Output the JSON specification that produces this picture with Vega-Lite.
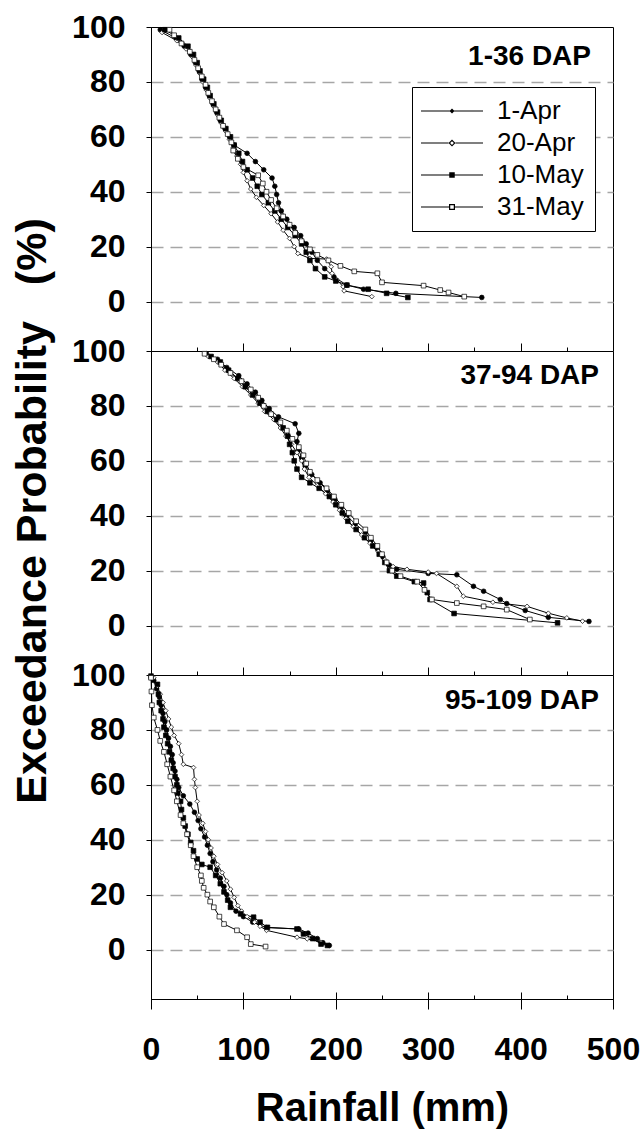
{
  "$schema": "https://vega.github.io/schema/vega-lite/v6.json",
  "background": "white",
  "padding": {"left": 11, "top": 10, "right": 5, "bottom": 5},
  "spacing": 0,
  "bounds": "flush",
  "data": {"values": [
    {"panel":"1-36","series":"1-Apr","prob":99,"rain":10},{"panel":"1-36","series":"1-Apr","prob":96,"rain":27},{"panel":"1-36","series":"1-Apr","prob":93,"rain":36},{"panel":"1-36","series":"1-Apr","prob":90,"rain":43},{"panel":"1-36","series":"1-Apr","prob":87,"rain":48},{"panel":"1-36","series":"1-Apr","prob":84,"rain":52},{"panel":"1-36","series":"1-Apr","prob":81,"rain":55},{"panel":"1-36","series":"1-Apr","prob":78,"rain":59},{"panel":"1-36","series":"1-Apr","prob":75,"rain":63},{"panel":"1-36","series":"1-Apr","prob":72,"rain":67},{"panel":"1-36","series":"1-Apr","prob":69,"rain":71},{"panel":"1-36","series":"1-Apr","prob":66,"rain":75},{"panel":"1-36","series":"1-Apr","prob":63,"rain":80},{"panel":"1-36","series":"1-Apr","prob":60,"rain":85},{"panel":"1-36","series":"1-Apr","prob":57,"rain":90},{"panel":"1-36","series":"1-Apr","prob":54,"rain":104},{"panel":"1-36","series":"1-Apr","prob":51,"rain":113},{"panel":"1-36","series":"1-Apr","prob":48,"rain":122},{"panel":"1-36","series":"1-Apr","prob":45,"rain":131},{"panel":"1-36","series":"1-Apr","prob":42,"rain":134},{"panel":"1-36","series":"1-Apr","prob":39,"rain":136},{"panel":"1-36","series":"1-Apr","prob":36,"rain":138},{"panel":"1-36","series":"1-Apr","prob":33,"rain":141},{"panel":"1-36","series":"1-Apr","prob":30,"rain":147},{"panel":"1-36","series":"1-Apr","prob":27,"rain":155},{"panel":"1-36","series":"1-Apr","prob":24,"rain":162},{"panel":"1-36","series":"1-Apr","prob":21,"rain":168},{"panel":"1-36","series":"1-Apr","prob":18,"rain":174},{"panel":"1-36","series":"1-Apr","prob":15,"rain":180},{"panel":"1-36","series":"1-Apr","prob":12,"rain":188},{"panel":"1-36","series":"1-Apr","prob":9,"rain":198},{"panel":"1-36","series":"1-Apr","prob":6,"rain":212},{"panel":"1-36","series":"1-Apr","prob":4.5,"rain":230},{"panel":"1-36","series":"1-Apr","prob":3,"rain":265},{"panel":"1-36","series":"1-Apr","prob":1.5,"rain":358},
    {"panel":"1-36","series":"20-Apr","prob":98,"rain":12},{"panel":"1-36","series":"20-Apr","prob":95,"rain":28},{"panel":"1-36","series":"20-Apr","prob":92,"rain":38},{"panel":"1-36","series":"20-Apr","prob":89,"rain":45},{"panel":"1-36","series":"20-Apr","prob":86,"rain":49},{"panel":"1-36","series":"20-Apr","prob":83,"rain":53},{"panel":"1-36","series":"20-Apr","prob":80,"rain":56},{"panel":"1-36","series":"20-Apr","prob":77,"rain":60},{"panel":"1-36","series":"20-Apr","prob":74,"rain":64},{"panel":"1-36","series":"20-Apr","prob":71,"rain":68},{"panel":"1-36","series":"20-Apr","prob":68,"rain":72},{"panel":"1-36","series":"20-Apr","prob":65,"rain":76},{"panel":"1-36","series":"20-Apr","prob":62,"rain":81},{"panel":"1-36","series":"20-Apr","prob":59,"rain":85},{"panel":"1-36","series":"20-Apr","prob":56,"rain":89},{"panel":"1-36","series":"20-Apr","prob":53,"rain":93},{"panel":"1-36","series":"20-Apr","prob":50,"rain":97},{"panel":"1-36","series":"20-Apr","prob":47,"rain":100},{"panel":"1-36","series":"20-Apr","prob":44,"rain":104},{"panel":"1-36","series":"20-Apr","prob":41,"rain":108},{"panel":"1-36","series":"20-Apr","prob":38,"rain":114},{"panel":"1-36","series":"20-Apr","prob":35,"rain":122},{"panel":"1-36","series":"20-Apr","prob":32,"rain":130},{"panel":"1-36","series":"20-Apr","prob":29,"rain":137},{"panel":"1-36","series":"20-Apr","prob":26,"rain":143},{"panel":"1-36","series":"20-Apr","prob":23,"rain":150},{"panel":"1-36","series":"20-Apr","prob":20,"rain":155},{"panel":"1-36","series":"20-Apr","prob":17.5,"rain":159},{"panel":"1-36","series":"20-Apr","prob":15.7,"rain":172},{"panel":"1-36","series":"20-Apr","prob":15.5,"rain":190},{"panel":"1-36","series":"20-Apr","prob":12.7,"rain":195},{"panel":"1-36","series":"20-Apr","prob":10.3,"rain":196},{"panel":"1-36","series":"20-Apr","prob":8,"rain":201},{"panel":"1-36","series":"20-Apr","prob":5.4,"rain":208},{"panel":"1-36","series":"20-Apr","prob":3.9,"rain":209},{"panel":"1-36","series":"20-Apr","prob":1.8,"rain":239},
    {"panel":"1-36","series":"10-May","prob":99,"rain":15},{"panel":"1-36","series":"10-May","prob":96,"rain":30},{"panel":"1-36","series":"10-May","prob":93,"rain":40},{"panel":"1-36","series":"10-May","prob":90,"rain":46},{"panel":"1-36","series":"10-May","prob":87,"rain":50},{"panel":"1-36","series":"10-May","prob":84,"rain":53},{"panel":"1-36","series":"10-May","prob":81,"rain":57},{"panel":"1-36","series":"10-May","prob":78,"rain":61},{"panel":"1-36","series":"10-May","prob":75,"rain":64},{"panel":"1-36","series":"10-May","prob":72,"rain":68},{"panel":"1-36","series":"10-May","prob":69,"rain":72},{"panel":"1-36","series":"10-May","prob":66,"rain":76},{"panel":"1-36","series":"10-May","prob":63,"rain":81},{"panel":"1-36","series":"10-May","prob":60,"rain":86},{"panel":"1-36","series":"10-May","prob":57,"rain":90},{"panel":"1-36","series":"10-May","prob":54,"rain":95},{"panel":"1-36","series":"10-May","prob":51,"rain":99},{"panel":"1-36","series":"10-May","prob":48,"rain":104},{"panel":"1-36","series":"10-May","prob":45,"rain":110},{"panel":"1-36","series":"10-May","prob":42,"rain":115},{"panel":"1-36","series":"10-May","prob":39,"rain":120},{"panel":"1-36","series":"10-May","prob":36,"rain":127},{"panel":"1-36","series":"10-May","prob":33,"rain":134},{"panel":"1-36","series":"10-May","prob":30,"rain":141},{"panel":"1-36","series":"10-May","prob":27,"rain":148},{"panel":"1-36","series":"10-May","prob":24,"rain":156},{"panel":"1-36","series":"10-May","prob":21,"rain":163},{"panel":"1-36","series":"10-May","prob":18,"rain":168},{"panel":"1-36","series":"10-May","prob":15,"rain":172},{"panel":"1-36","series":"10-May","prob":12,"rain":178},{"panel":"1-36","series":"10-May","prob":9,"rain":188},{"panel":"1-36","series":"10-May","prob":7.5,"rain":200},{"panel":"1-36","series":"10-May","prob":6,"rain":212},{"panel":"1-36","series":"10-May","prob":4.5,"rain":235},{"panel":"1-36","series":"10-May","prob":3,"rain":255},{"panel":"1-36","series":"10-May","prob":1.5,"rain":278},
    {"panel":"1-36","series":"31-May","prob":99,"rain":20},{"panel":"1-36","series":"31-May","prob":97,"rain":25},{"panel":"1-36","series":"31-May","prob":94,"rain":33},{"panel":"1-36","series":"31-May","prob":91,"rain":42},{"panel":"1-36","series":"31-May","prob":88,"rain":47},{"panel":"1-36","series":"31-May","prob":85,"rain":51},{"panel":"1-36","series":"31-May","prob":82,"rain":55},{"panel":"1-36","series":"31-May","prob":79,"rain":59},{"panel":"1-36","series":"31-May","prob":76,"rain":62},{"panel":"1-36","series":"31-May","prob":73,"rain":66},{"panel":"1-36","series":"31-May","prob":70,"rain":70},{"panel":"1-36","series":"31-May","prob":67,"rain":74},{"panel":"1-36","series":"31-May","prob":64,"rain":78},{"panel":"1-36","series":"31-May","prob":61,"rain":83},{"panel":"1-36","series":"31-May","prob":58,"rain":87},{"panel":"1-36","series":"31-May","prob":55,"rain":89},{"panel":"1-36","series":"31-May","prob":52,"rain":94},{"panel":"1-36","series":"31-May","prob":49,"rain":100},{"panel":"1-36","series":"31-May","prob":46,"rain":116},{"panel":"1-36","series":"31-May","prob":43,"rain":121},{"panel":"1-36","series":"31-May","prob":40,"rain":125},{"panel":"1-36","series":"31-May","prob":37,"rain":130},{"panel":"1-36","series":"31-May","prob":34,"rain":136},{"panel":"1-36","series":"31-May","prob":31,"rain":143},{"panel":"1-36","series":"31-May","prob":28,"rain":150},{"panel":"1-36","series":"31-May","prob":25,"rain":156},{"panel":"1-36","series":"31-May","prob":22,"rain":163},{"panel":"1-36","series":"31-May","prob":19,"rain":172},{"panel":"1-36","series":"31-May","prob":17,"rain":180},{"panel":"1-36","series":"31-May","prob":15,"rain":192},{"panel":"1-36","series":"31-May","prob":13,"rain":205},{"panel":"1-36","series":"31-May","prob":11,"rain":220},{"panel":"1-36","series":"31-May","prob":10.3,"rain":245},{"panel":"1-36","series":"31-May","prob":7,"rain":250},{"panel":"1-36","series":"31-May","prob":5.8,"rain":295},{"panel":"1-36","series":"31-May","prob":4.2,"rain":313},{"panel":"1-36","series":"31-May","prob":3.3,"rain":322},{"panel":"1-36","series":"31-May","prob":1.8,"rain":339},
    {"panel":"37-94","series":"1-Apr","prob":99,"rain":60},{"panel":"37-94","series":"1-Apr","prob":97,"rain":72},{"panel":"37-94","series":"1-Apr","prob":94,"rain":82},{"panel":"37-94","series":"1-Apr","prob":91,"rain":95},{"panel":"37-94","series":"1-Apr","prob":88,"rain":104},{"panel":"37-94","series":"1-Apr","prob":85,"rain":113},{"panel":"37-94","series":"1-Apr","prob":82,"rain":120},{"panel":"37-94","series":"1-Apr","prob":79,"rain":128},{"panel":"37-94","series":"1-Apr","prob":76,"rain":138},{"panel":"37-94","series":"1-Apr","prob":73.5,"rain":156},{"panel":"37-94","series":"1-Apr","prob":70,"rain":160},{"panel":"37-94","series":"1-Apr","prob":67,"rain":158},{"panel":"37-94","series":"1-Apr","prob":64,"rain":160},{"panel":"37-94","series":"1-Apr","prob":61,"rain":163},{"panel":"37-94","series":"1-Apr","prob":58,"rain":167},{"panel":"37-94","series":"1-Apr","prob":55,"rain":174},{"panel":"37-94","series":"1-Apr","prob":52,"rain":183},{"panel":"37-94","series":"1-Apr","prob":49,"rain":191},{"panel":"37-94","series":"1-Apr","prob":46,"rain":199},{"panel":"37-94","series":"1-Apr","prob":43,"rain":206},{"panel":"37-94","series":"1-Apr","prob":40,"rain":212},{"panel":"37-94","series":"1-Apr","prob":37,"rain":221},{"panel":"37-94","series":"1-Apr","prob":34,"rain":232},{"panel":"37-94","series":"1-Apr","prob":31,"rain":238},{"panel":"37-94","series":"1-Apr","prob":28,"rain":245},{"panel":"37-94","series":"1-Apr","prob":25,"rain":251},{"panel":"37-94","series":"1-Apr","prob":22,"rain":258},{"panel":"37-94","series":"1-Apr","prob":20.5,"rain":266},{"panel":"37-94","series":"1-Apr","prob":19,"rain":300},{"panel":"37-94","series":"1-Apr","prob":18.5,"rain":331},{"panel":"37-94","series":"1-Apr","prob":14.3,"rain":349},{"panel":"37-94","series":"1-Apr","prob":12.5,"rain":360},{"panel":"37-94","series":"1-Apr","prob":9.5,"rain":378},{"panel":"37-94","series":"1-Apr","prob":8,"rain":385},{"panel":"37-94","series":"1-Apr","prob":5.5,"rain":405},{"panel":"37-94","series":"1-Apr","prob":3,"rain":430},{"panel":"37-94","series":"1-Apr","prob":1.5,"rain":474},
    {"panel":"37-94","series":"20-Apr","prob":98,"rain":62},{"panel":"37-94","series":"20-Apr","prob":96,"rain":72},{"panel":"37-94","series":"20-Apr","prob":93,"rain":80},{"panel":"37-94","series":"20-Apr","prob":90,"rain":90},{"panel":"37-94","series":"20-Apr","prob":87,"rain":99},{"panel":"37-94","series":"20-Apr","prob":84,"rain":108},{"panel":"37-94","series":"20-Apr","prob":81,"rain":116},{"panel":"37-94","series":"20-Apr","prob":78,"rain":123},{"panel":"37-94","series":"20-Apr","prob":75,"rain":133},{"panel":"37-94","series":"20-Apr","prob":72,"rain":140},{"panel":"37-94","series":"20-Apr","prob":69,"rain":146},{"panel":"37-94","series":"20-Apr","prob":66,"rain":152},{"panel":"37-94","series":"20-Apr","prob":63,"rain":158},{"panel":"37-94","series":"20-Apr","prob":60,"rain":163},{"panel":"37-94","series":"20-Apr","prob":57,"rain":166},{"panel":"37-94","series":"20-Apr","prob":54,"rain":171},{"panel":"37-94","series":"20-Apr","prob":51,"rain":180},{"panel":"37-94","series":"20-Apr","prob":48,"rain":189},{"panel":"37-94","series":"20-Apr","prob":45,"rain":197},{"panel":"37-94","series":"20-Apr","prob":42,"rain":204},{"panel":"37-94","series":"20-Apr","prob":39,"rain":211},{"panel":"37-94","series":"20-Apr","prob":36,"rain":219},{"panel":"37-94","series":"20-Apr","prob":33,"rain":228},{"panel":"37-94","series":"20-Apr","prob":30,"rain":237},{"panel":"37-94","series":"20-Apr","prob":27,"rain":246},{"panel":"37-94","series":"20-Apr","prob":24,"rain":253},{"panel":"37-94","series":"20-Apr","prob":21.5,"rain":262},{"panel":"37-94","series":"20-Apr","prob":20.5,"rain":277},{"panel":"37-94","series":"20-Apr","prob":19.5,"rain":300},{"panel":"37-94","series":"20-Apr","prob":19,"rain":309},{"panel":"37-94","series":"20-Apr","prob":14.3,"rain":331},{"panel":"37-94","series":"20-Apr","prob":10.7,"rain":338},{"panel":"37-94","series":"20-Apr","prob":8.5,"rain":370},{"panel":"37-94","series":"20-Apr","prob":7,"rain":407},{"panel":"37-94","series":"20-Apr","prob":4.5,"rain":430},{"panel":"37-94","series":"20-Apr","prob":2.8,"rain":450},{"panel":"37-94","series":"20-Apr","prob":1.6,"rain":467},
    {"panel":"37-94","series":"10-May","prob":98,"rain":65},{"panel":"37-94","series":"10-May","prob":96,"rain":75},{"panel":"37-94","series":"10-May","prob":93,"rain":84},{"panel":"37-94","series":"10-May","prob":90,"rain":94},{"panel":"37-94","series":"10-May","prob":87,"rain":102},{"panel":"37-94","series":"10-May","prob":84,"rain":110},{"panel":"37-94","series":"10-May","prob":81,"rain":118},{"panel":"37-94","series":"10-May","prob":78,"rain":126},{"panel":"37-94","series":"10-May","prob":75,"rain":136},{"panel":"37-94","series":"10-May","prob":72,"rain":143},{"panel":"37-94","series":"10-May","prob":69,"rain":148},{"panel":"37-94","series":"10-May","prob":66,"rain":150},{"panel":"37-94","series":"10-May","prob":63,"rain":153},{"panel":"37-94","series":"10-May","prob":60,"rain":155},{"panel":"37-94","series":"10-May","prob":57,"rain":158},{"panel":"37-94","series":"10-May","prob":54,"rain":163},{"panel":"37-94","series":"10-May","prob":52,"rain":172},{"panel":"37-94","series":"10-May","prob":50,"rain":182},{"panel":"37-94","series":"10-May","prob":47,"rain":193},{"panel":"37-94","series":"10-May","prob":44,"rain":200},{"panel":"37-94","series":"10-May","prob":41,"rain":207},{"panel":"37-94","series":"10-May","prob":38,"rain":213},{"panel":"37-94","series":"10-May","prob":35,"rain":222},{"panel":"37-94","series":"10-May","prob":32,"rain":231},{"panel":"37-94","series":"10-May","prob":29,"rain":240},{"panel":"37-94","series":"10-May","prob":26,"rain":247},{"panel":"37-94","series":"10-May","prob":23,"rain":253},{"panel":"37-94","series":"10-May","prob":20,"rain":258},{"panel":"37-94","series":"10-May","prob":18,"rain":266},{"panel":"37-94","series":"10-May","prob":16,"rain":285},{"panel":"37-94","series":"10-May","prob":15.5,"rain":295},{"panel":"37-94","series":"10-May","prob":12,"rain":299},{"panel":"37-94","series":"10-May","prob":9.5,"rain":302},{"panel":"37-94","series":"10-May","prob":4.4,"rain":328},{"panel":"37-94","series":"10-May","prob":1,"rain":440},
    {"panel":"37-94","series":"31-May","prob":99,"rain":58},{"panel":"37-94","series":"31-May","prob":97,"rain":68},{"panel":"37-94","series":"31-May","prob":95,"rain":76},{"panel":"37-94","series":"31-May","prob":92,"rain":86},{"panel":"37-94","series":"31-May","prob":89,"rain":98},{"panel":"37-94","series":"31-May","prob":86,"rain":108},{"panel":"37-94","series":"31-May","prob":83,"rain":116},{"panel":"37-94","series":"31-May","prob":80,"rain":122},{"panel":"37-94","series":"31-May","prob":77,"rain":130},{"panel":"37-94","series":"31-May","prob":74,"rain":140},{"panel":"37-94","series":"31-May","prob":71,"rain":147},{"panel":"37-94","series":"31-May","prob":68,"rain":153},{"panel":"37-94","series":"31-May","prob":65,"rain":160},{"panel":"37-94","series":"31-May","prob":62,"rain":165},{"panel":"37-94","series":"31-May","prob":59,"rain":168},{"panel":"37-94","series":"31-May","prob":56,"rain":172},{"panel":"37-94","series":"31-May","prob":53,"rain":180},{"panel":"37-94","series":"31-May","prob":50,"rain":190},{"panel":"37-94","series":"31-May","prob":47,"rain":198},{"panel":"37-94","series":"31-May","prob":44,"rain":206},{"panel":"37-94","series":"31-May","prob":41,"rain":214},{"panel":"37-94","series":"31-May","prob":38,"rain":222},{"panel":"37-94","series":"31-May","prob":35,"rain":232},{"panel":"37-94","series":"31-May","prob":32,"rain":238},{"panel":"37-94","series":"31-May","prob":29,"rain":245},{"panel":"37-94","series":"31-May","prob":26,"rain":250},{"panel":"37-94","series":"31-May","prob":23,"rain":255},{"panel":"37-94","series":"31-May","prob":20,"rain":261},{"panel":"37-94","series":"31-May","prob":18,"rain":270},{"panel":"37-94","series":"31-May","prob":16,"rain":288},{"panel":"37-94","series":"31-May","prob":13,"rain":296},{"panel":"37-94","series":"31-May","prob":9.5,"rain":304},{"panel":"37-94","series":"31-May","prob":8.2,"rain":331},{"panel":"37-94","series":"31-May","prob":7,"rain":360},{"panel":"37-94","series":"31-May","prob":5.8,"rain":385},{"panel":"37-94","series":"31-May","prob":2.2,"rain":410},
    {"panel":"95-109","series":"1-Apr","prob":98,"rain":3},{"panel":"95-109","series":"1-Apr","prob":95,"rain":6},{"panel":"95-109","series":"1-Apr","prob":92,"rain":9},{"panel":"95-109","series":"1-Apr","prob":89,"rain":11},{"panel":"95-109","series":"1-Apr","prob":86,"rain":13},{"panel":"95-109","series":"1-Apr","prob":83,"rain":15},{"panel":"95-109","series":"1-Apr","prob":80,"rain":17},{"panel":"95-109","series":"1-Apr","prob":77,"rain":19},{"panel":"95-109","series":"1-Apr","prob":74,"rain":21},{"panel":"95-109","series":"1-Apr","prob":71,"rain":23},{"panel":"95-109","series":"1-Apr","prob":68,"rain":24},{"panel":"95-109","series":"1-Apr","prob":65,"rain":26},{"panel":"95-109","series":"1-Apr","prob":62,"rain":28},{"panel":"95-109","series":"1-Apr","prob":59,"rain":30},{"panel":"95-109","series":"1-Apr","prob":56,"rain":35},{"panel":"95-109","series":"1-Apr","prob":53,"rain":42},{"panel":"95-109","series":"1-Apr","prob":50,"rain":47},{"panel":"95-109","series":"1-Apr","prob":47,"rain":51},{"panel":"95-109","series":"1-Apr","prob":44,"rain":54},{"panel":"95-109","series":"1-Apr","prob":41,"rain":58},{"panel":"95-109","series":"1-Apr","prob":38,"rain":61},{"panel":"95-109","series":"1-Apr","prob":35,"rain":64},{"panel":"95-109","series":"1-Apr","prob":32,"rain":67},{"panel":"95-109","series":"1-Apr","prob":29,"rain":71},{"panel":"95-109","series":"1-Apr","prob":26,"rain":75},{"panel":"95-109","series":"1-Apr","prob":23,"rain":79},{"panel":"95-109","series":"1-Apr","prob":20,"rain":82},{"panel":"95-109","series":"1-Apr","prob":17,"rain":86},{"panel":"95-109","series":"1-Apr","prob":14,"rain":92},{"panel":"95-109","series":"1-Apr","prob":12,"rain":100},{"panel":"95-109","series":"1-Apr","prob":10,"rain":110},{"panel":"95-109","series":"1-Apr","prob":8,"rain":125},{"panel":"95-109","series":"1-Apr","prob":7.5,"rain":160},{"panel":"95-109","series":"1-Apr","prob":6,"rain":170},{"panel":"95-109","series":"1-Apr","prob":4,"rain":180},{"panel":"95-109","series":"1-Apr","prob":2.5,"rain":186},{"panel":"95-109","series":"1-Apr","prob":1.5,"rain":193},
    {"panel":"95-109","series":"20-Apr","prob":99,"rain":3},{"panel":"95-109","series":"20-Apr","prob":96,"rain":7},{"panel":"95-109","series":"20-Apr","prob":93,"rain":10},{"panel":"95-109","series":"20-Apr","prob":90,"rain":13},{"panel":"95-109","series":"20-Apr","prob":87,"rain":16},{"panel":"95-109","series":"20-Apr","prob":84,"rain":19},{"panel":"95-109","series":"20-Apr","prob":81,"rain":22},{"panel":"95-109","series":"20-Apr","prob":78,"rain":25},{"panel":"95-109","series":"20-Apr","prob":75,"rain":30},{"panel":"95-109","series":"20-Apr","prob":71,"rain":33},{"panel":"95-109","series":"20-Apr","prob":67.5,"rain":35},{"panel":"95-109","series":"20-Apr","prob":66.3,"rain":46},{"panel":"95-109","series":"20-Apr","prob":62,"rain":47},{"panel":"95-109","series":"20-Apr","prob":59,"rain":48},{"panel":"95-109","series":"20-Apr","prob":54,"rain":50},{"panel":"95-109","series":"20-Apr","prob":49,"rain":52},{"panel":"95-109","series":"20-Apr","prob":46,"rain":56},{"panel":"95-109","series":"20-Apr","prob":43,"rain":59},{"panel":"95-109","series":"20-Apr","prob":40,"rain":62},{"panel":"95-109","series":"20-Apr","prob":37,"rain":65},{"panel":"95-109","series":"20-Apr","prob":34,"rain":68},{"panel":"95-109","series":"20-Apr","prob":31,"rain":72},{"panel":"95-109","series":"20-Apr","prob":28,"rain":77},{"panel":"95-109","series":"20-Apr","prob":25,"rain":82},{"panel":"95-109","series":"20-Apr","prob":22,"rain":86},{"panel":"95-109","series":"20-Apr","prob":19,"rain":90},{"panel":"95-109","series":"20-Apr","prob":16,"rain":94},{"panel":"95-109","series":"20-Apr","prob":14,"rain":98},{"panel":"95-109","series":"20-Apr","prob":12,"rain":104},{"panel":"95-109","series":"20-Apr","prob":10,"rain":112},{"panel":"95-109","series":"20-Apr","prob":8.5,"rain":118},{"panel":"95-109","series":"20-Apr","prob":7,"rain":125},{"panel":"95-109","series":"20-Apr","prob":4.5,"rain":158},{"panel":"95-109","series":"20-Apr","prob":3.9,"rain":169},{"panel":"95-109","series":"20-Apr","prob":2.7,"rain":184},
    {"panel":"95-109","series":"10-May","prob":99.6,"rain":0},{"panel":"95-109","series":"10-May","prob":96.6,"rain":7},{"panel":"95-109","series":"10-May","prob":93,"rain":8},{"panel":"95-109","series":"10-May","prob":90,"rain":9},{"panel":"95-109","series":"10-May","prob":87,"rain":11},{"panel":"95-109","series":"10-May","prob":84,"rain":13},{"panel":"95-109","series":"10-May","prob":81,"rain":14},{"panel":"95-109","series":"10-May","prob":78,"rain":16},{"panel":"95-109","series":"10-May","prob":75,"rain":18},{"panel":"95-109","series":"10-May","prob":72,"rain":20},{"panel":"95-109","series":"10-May","prob":69,"rain":22},{"panel":"95-109","series":"10-May","prob":66,"rain":24},{"panel":"95-109","series":"10-May","prob":63,"rain":26},{"panel":"95-109","series":"10-May","prob":60,"rain":28},{"panel":"95-109","series":"10-May","prob":57,"rain":29},{"panel":"95-109","series":"10-May","prob":54,"rain":32},{"panel":"95-109","series":"10-May","prob":51,"rain":33},{"panel":"95-109","series":"10-May","prob":48,"rain":35},{"panel":"95-109","series":"10-May","prob":45,"rain":37},{"panel":"95-109","series":"10-May","prob":42,"rain":40},{"panel":"95-109","series":"10-May","prob":39,"rain":43},{"panel":"95-109","series":"10-May","prob":36,"rain":46},{"panel":"95-109","series":"10-May","prob":33,"rain":50},{"panel":"95-109","series":"10-May","prob":31,"rain":55},{"panel":"95-109","series":"10-May","prob":30,"rain":64},{"panel":"95-109","series":"10-May","prob":27,"rain":70},{"panel":"95-109","series":"10-May","prob":24,"rain":75},{"panel":"95-109","series":"10-May","prob":21,"rain":79},{"panel":"95-109","series":"10-May","prob":18,"rain":83},{"panel":"95-109","series":"10-May","prob":15.4,"rain":86},{"panel":"95-109","series":"10-May","prob":13,"rain":97},{"panel":"95-109","series":"10-May","prob":11.8,"rain":111},{"panel":"95-109","series":"10-May","prob":10,"rain":118},{"panel":"95-109","series":"10-May","prob":8.1,"rain":126},{"panel":"95-109","series":"10-May","prob":7.5,"rain":158},{"panel":"95-109","series":"10-May","prob":5.7,"rain":165},{"panel":"95-109","series":"10-May","prob":4,"rain":175},{"panel":"95-109","series":"10-May","prob":2,"rain":184},{"panel":"95-109","series":"10-May","prob":1.5,"rain":191},
    {"panel":"95-109","series":"31-May","prob":99,"rain":0},{"panel":"95-109","series":"31-May","prob":94,"rain":0.5},{"panel":"95-109","series":"31-May","prob":89,"rain":1},{"panel":"95-109","series":"31-May","prob":84.5,"rain":3},{"panel":"95-109","series":"31-May","prob":80,"rain":7},{"panel":"95-109","series":"31-May","prob":76,"rain":10},{"panel":"95-109","series":"31-May","prob":72,"rain":14},{"panel":"95-109","series":"31-May","prob":67.5,"rain":17.5},{"panel":"95-109","series":"31-May","prob":63,"rain":21},{"panel":"95-109","series":"31-May","prob":58,"rain":25},{"panel":"95-109","series":"31-May","prob":54,"rain":28},{"panel":"95-109","series":"31-May","prob":49,"rain":32},{"panel":"95-109","series":"31-May","prob":46,"rain":35},{"panel":"95-109","series":"31-May","prob":42,"rain":39},{"panel":"95-109","series":"31-May","prob":38,"rain":43},{"panel":"95-109","series":"31-May","prob":34,"rain":46},{"panel":"95-109","series":"31-May","prob":30,"rain":50},{"panel":"95-109","series":"31-May","prob":27,"rain":54},{"panel":"95-109","series":"31-May","prob":25,"rain":55},{"panel":"95-109","series":"31-May","prob":22.5,"rain":57},{"panel":"95-109","series":"31-May","prob":20,"rain":61},{"panel":"95-109","series":"31-May","prob":17.5,"rain":64},{"panel":"95-109","series":"31-May","prob":15.4,"rain":68},{"panel":"95-109","series":"31-May","prob":12,"rain":74},{"panel":"95-109","series":"31-May","prob":9.3,"rain":79},{"panel":"95-109","series":"31-May","prob":7,"rain":93},{"panel":"95-109","series":"31-May","prob":4.5,"rain":104},{"panel":"95-109","series":"31-May","prob":2,"rain":108},{"panel":"95-109","series":"31-May","prob":1.1,"rain":124}
  ]},
  "resolve": {"scale": {"shape": "independent", "fill": "independent"}, "legend": {"shape": "independent", "fill": "independent"}},
  "vconcat": [
    {
      "width": 462, "height": 324,
      "title": {"text": "1-36 DAP", "orient": "top", "anchor": "end", "frame": "group", "offset": -82, "baseline": "alphabetic", "fontSize": 28, "fontWeight": "bold", "font": "Liberation Sans", "color": "black", "dx": -22},
      "transform": [{"filter": "datum.panel === '1-36'"}],
      "resolve": {"axis": {"x": "independent", "y": "independent"}, "scale": {"shape": "independent", "fill": "independent"}},
      "layer": [
        {"mark": {"type": "line", "color": "black", "strokeWidth": 1},
         "encoding": {
           "x": {"field": "rain", "type": "quantitative", "scale": {"domain": [0, 500], "nice": false},
                 "axis": {"orient": "bottom", "values": [100,200,300,400], "labels": false, "title": null, "grid": false, "domain": false, "offset": -8, "tickSize": 8, "tickColor": "black"}},
           "y": {"field": "prob", "type": "quantitative", "scale": {"domain": [-18, 100], "nice": false},
                 "axis": {"orient": "left", "values": [0,20,40,60,80], "grid": true, "gridColor": "#a6a6a6", "gridWidth": 1.5, "gridDash": [12,7], "labels": false, "ticks": false, "domain": false, "title": null}},
           "detail": {"field": "series"},
           "order": {"field": "prob", "sort": "descending"}
         }},
        {"mark": {"type": "point", "filled": true, "stroke": "black", "strokeWidth": 0.7, "size": 22, "opacity": 1},
         "encoding": {
           "x": {"field": "rain", "type": "quantitative",
                 "axis": {"orient": "bottom", "values": [50,150,250,350,450], "labels": false, "title": null, "grid": false, "domain": false, "offset": -4, "tickSize": 4, "tickColor": "black"}},
           "y": {"field": "prob", "type": "quantitative",
                 "axis": {"orient": "left", "values": [0,20,40,60,80,100], "grid": false, "tickSize": 5, "tickColor": "black", "domainColor": "black", "labelFontSize": 32, "labelFontWeight": "bold", "labelColor": "black", "labelPadding": 21, "labelFlush": false, "labelOverlap": false,
                          "title": "Exceedance Probability\u00a0\u00a0\u00a0(%)", "titleFontSize": 43, "titleFontWeight": "bold", "titleColor": "black", "titleX": -105.5, "titleY": 483.5, "titleBaseline": "alphabetic"}},
           "shape": {"field": "series", "type": "nominal", "scale": {"domain": ["1-Apr","20-Apr","10-May","31-May"], "range": ["circle","diamond","square","square"]}, "legend": null},
           "fill": {"field": "series", "type": "nominal", "scale": {"domain": ["1-Apr","20-Apr","10-May","31-May"], "range": ["black","white","black","white"]}, "legend": null}
         }},
        {"transform": [{"filter": "false"}],
         "mark": {"type": "point", "filled": true, "color": "black", "stroke": "black", "strokeWidth": 0.5, "opacity": 1},
         "encoding": {
           "x": {"field": "rain", "type": "quantitative", "axis": null},
           "y": {"field": "prob", "type": "quantitative", "axis": null},
           "shape": {"field": "series", "type": "nominal",
                     "scale": {"domain": ["1-Apr","20-Apr","10-May","31-May"],
                               "range": ["M-2.48,-0.045H2.48V0.045H-2.48ZM-0.2,0L0,-0.2L0.2,0L0,0.2Z",
                                         "M-2.48,-0.045H-0.28V0.045H-2.48ZM0.28,-0.045H2.48V0.045H0.28ZM-0.28,0L0,-0.28L0.28,0L0,0.28ZM-0.15,0L0,0.15L0.15,0L0,-0.15Z",
                                         "M-2.48,-0.045H2.48V0.045H-2.48ZM-0.22,-0.22H0.22V0.22H-0.22Z",
                                         "M-2.48,-0.045H-0.24V0.045H-2.48ZM0.24,-0.045H2.48V0.045H0.24ZM-0.24,-0.24H0.24V0.24H-0.24ZM-0.14,-0.14V0.14H0.14V-0.14Z"]},
                     "legend": {"orient": "none", "legendX": 261, "legendY": 60, "title": null, "direction": "vertical",
                                "strokeColor": "black", "fillColor": "white", "padding": 11, "rowPadding": 6,
                                "symbolSize": 625, "symbolOffset": 16, "symbolStrokeColor": "black", "symbolFillColor": "black", "symbolStrokeWidth": 0.5, "symbolOpacity": 1,
                                "labelFontSize": 26, "labelFont": "Liberation Sans", "labelColor": "black", "labelOffset": 32, "labelLimit": 300,
                                "encode": {"symbols": {"stroke": {"value": "black"}, "strokeWidth": {"value": 0.5}, "fill": {"value": "black"}}}}}
         }}
      ]
    },
    {
      "width": 462, "height": 324,
      "title": {"text": "37-94 DAP", "orient": "top", "anchor": "end", "frame": "group", "offset": -77, "baseline": "alphabetic", "fontSize": 28, "fontWeight": "bold", "font": "Liberation Sans", "color": "black", "dx": -14},
      "transform": [{"filter": "datum.panel === '37-94'"}],
      "resolve": {"axis": {"x": "independent", "y": "independent"}},
      "layer": [
        {"mark": {"type": "line", "color": "black", "strokeWidth": 1},
         "encoding": {
           "x": {"field": "rain", "type": "quantitative", "scale": {"domain": [0, 500], "nice": false},
                 "axis": {"orient": "bottom", "values": [100,200,300,400], "labels": false, "title": null, "grid": false, "domain": false, "offset": -8, "tickSize": 8, "tickColor": "black"}},
           "y": {"field": "prob", "type": "quantitative", "scale": {"domain": [-18, 100], "nice": false},
                 "axis": {"orient": "left", "values": [0,20,40,60,80], "grid": true, "gridColor": "#a6a6a6", "gridWidth": 1.5, "gridDash": [12,7], "labels": false, "ticks": false, "domain": false, "title": null}},
           "detail": {"field": "series"},
           "order": {"field": "prob", "sort": "descending"}
         }},
        {"mark": {"type": "point", "filled": true, "stroke": "black", "strokeWidth": 0.7, "size": 22, "opacity": 1},
         "encoding": {
           "x": {"field": "rain", "type": "quantitative",
                 "axis": {"orient": "bottom", "values": [50,150,250,350,450], "labels": false, "title": null, "grid": false, "domain": false, "offset": -4, "tickSize": 4, "tickColor": "black"}},
           "y": {"field": "prob", "type": "quantitative",
                 "axis": {"orient": "left", "values": [0,20,40,60,80,100], "grid": false, "tickSize": 5, "tickColor": "black", "domainColor": "black", "labelFontSize": 32, "labelFontWeight": "bold", "labelColor": "black", "labelPadding": 21, "labelFlush": false, "labelOverlap": false, "title": null}},
           "shape": {"field": "series", "type": "nominal", "scale": {"domain": ["1-Apr","20-Apr","10-May","31-May"], "range": ["circle","diamond","square","square"]}, "legend": null},
           "fill": {"field": "series", "type": "nominal", "scale": {"domain": ["1-Apr","20-Apr","10-May","31-May"], "range": ["black","white","black","white"]}, "legend": null}
         }}
      ]
    },
    {
      "width": 462, "height": 324,
      "title": {"text": "95-109 DAP", "orient": "top", "anchor": "end", "frame": "group", "offset": -78, "baseline": "alphabetic", "fontSize": 28, "fontWeight": "bold", "font": "Liberation Sans", "color": "black", "dx": -14},
      "transform": [{"filter": "datum.panel === '95-109'"}],
      "resolve": {"axis": {"x": "independent", "y": "independent"}},
      "layer": [
        {"mark": {"type": "line", "color": "black", "strokeWidth": 1},
         "encoding": {
           "x": {"field": "rain", "type": "quantitative", "scale": {"domain": [0, 500], "nice": false},
                 "axis": {"orient": "bottom", "values": [0,100,200,300,400,500], "tickSize": 10, "tickColor": "black", "domainColor": "black", "labelFontSize": 32, "labelFontWeight": "bold", "labelColor": "black", "labelPadding": 25, "labelFlush": false, "labelOverlap": false, "grid": false,
                          "title": "Rainfall (mm)", "titleFontSize": 40, "titleFontWeight": "bold", "titleColor": "black", "titlePadding": 23}},
           "y": {"field": "prob", "type": "quantitative", "scale": {"domain": [-18, 100], "nice": false},
                 "axis": {"orient": "left", "values": [0,20,40,60,80], "grid": true, "gridColor": "#a6a6a6", "gridWidth": 1.5, "gridDash": [12,7], "labels": false, "ticks": false, "domain": false, "title": null}},
           "detail": {"field": "series"},
           "order": {"field": "prob", "sort": "descending"}
         }},
        {"mark": {"type": "point", "filled": true, "stroke": "black", "strokeWidth": 0.7, "size": 22, "opacity": 1},
         "encoding": {
           "x": {"field": "rain", "type": "quantitative",
                 "axis": {"orient": "bottom", "values": [0,100,200,300,400,500], "labels": false, "title": null, "grid": false, "domain": false, "offset": -7, "tickSize": 7, "tickColor": "black"}},
           "y": {"field": "prob", "type": "quantitative",
                 "axis": {"orient": "left", "values": [0,20,40,60,80,100], "grid": false, "tickSize": 5, "tickColor": "black", "domainColor": "black", "labelFontSize": 32, "labelFontWeight": "bold", "labelColor": "black", "labelPadding": 21, "labelFlush": false, "labelOverlap": false, "title": null}},
           "shape": {"field": "series", "type": "nominal", "scale": {"domain": ["1-Apr","20-Apr","10-May","31-May"], "range": ["circle","diamond","square","square"]}, "legend": null},
           "fill": {"field": "series", "type": "nominal", "scale": {"domain": ["1-Apr","20-Apr","10-May","31-May"], "range": ["black","white","black","white"]}, "legend": null}
         }},
        {"transform": [{"filter": "false"}],
         "mark": {"type": "point", "opacity": 0},
         "encoding": {
           "x": {"field": "rain", "type": "quantitative",
                 "axis": {"orient": "bottom", "values": [50,150,250,350,450], "labels": false, "title": null, "grid": false, "domain": false, "offset": -4, "tickSize": 4, "tickColor": "black"}},
           "y": {"field": "prob", "type": "quantitative", "axis": null}
         }}
      ]
    }
  ],
  "config": {
    "font": "Liberation Sans",
    "view": {"stroke": "black", "strokeWidth": 1, "fill": "white"},
    "axis": {"domainColor": "black", "domainWidth": 1, "tickColor": "black", "tickWidth": 1, "labelColor": "black", "titleColor": "black"}
  }
}
